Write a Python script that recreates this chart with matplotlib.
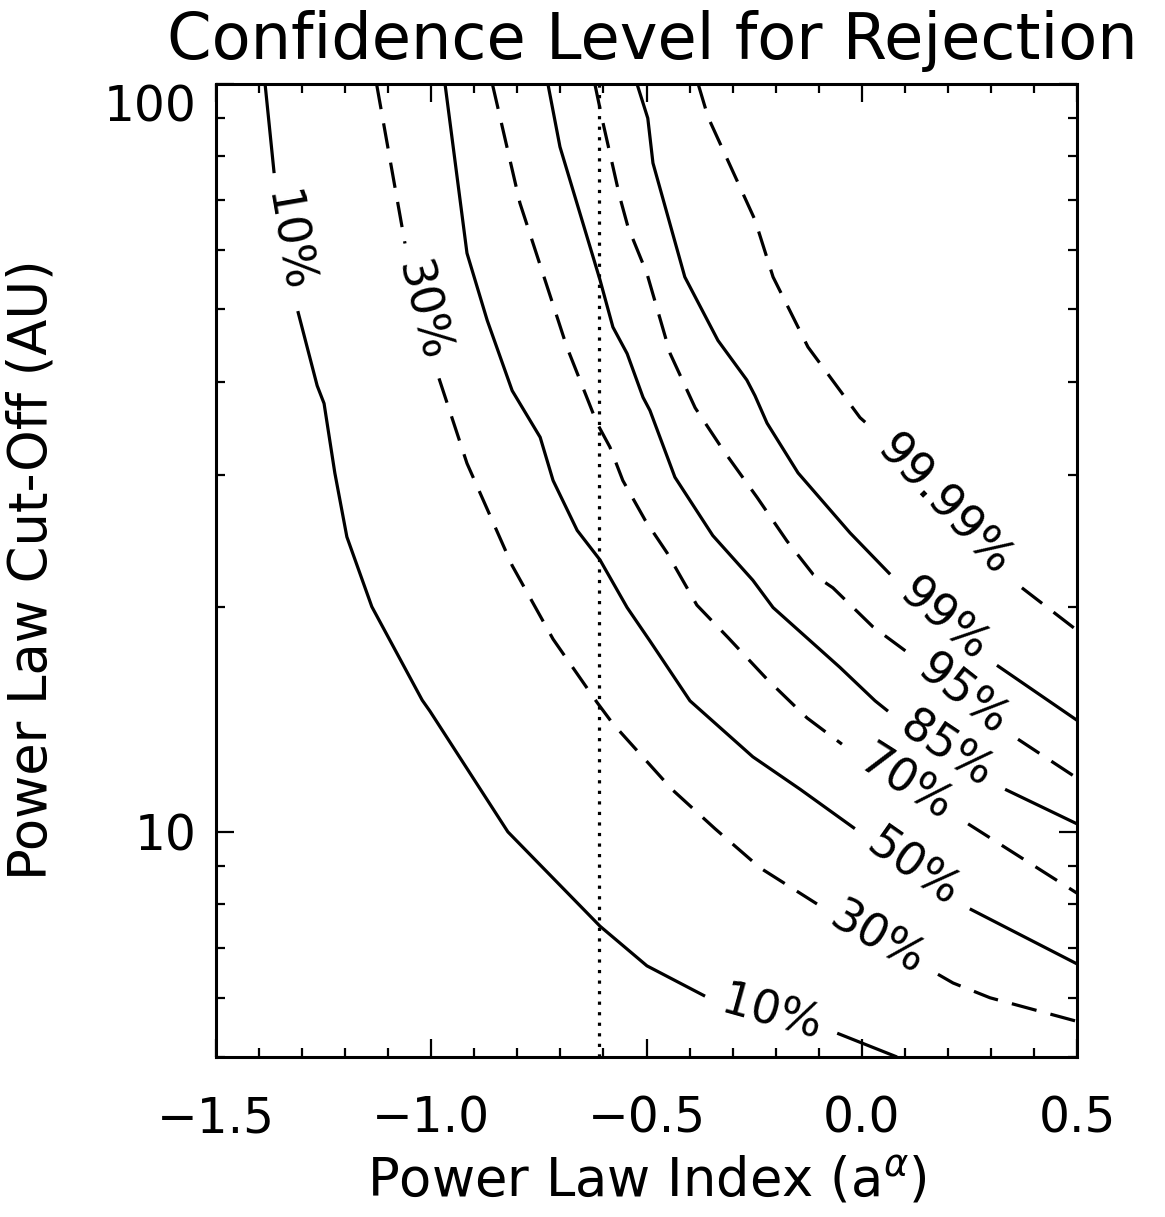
import numpy as np
import matplotlib
matplotlib.use('Agg')
import matplotlib.pyplot as plt
from matplotlib.ticker import FixedLocator, NullFormatter

plt.rcParams.update({'font.family': 'DejaVu Sans'})

# contour levels, each one split into pieces where the label sits
levels = ['10%', '30%', '50%', '70%', '85%', '95%', '99%', '99.99%']

c10_x = [[-1.386, -1.365],
         [-1.310, -1.265, -1.249, -1.224, -1.196, -1.138, -1.021, -1.003,
          -0.822, -0.608, -0.499, -0.364],
         [-0.057, 0.082]]
c10_y = [[100, 76.0],
         [49.7, 39.5, 37.4, 30.2, 24.8, 20.0, 15.0, 14.5, 10.0, 7.48, 6.62, 6.03],
         [5.38, 5.0]]

c30_x = [[-1.127, -1.061],
         [-0.982, -0.917, -0.812, -0.717, -0.615, -0.578, -0.441, -0.341,
          -0.236, -0.104],
         [0.177, 0.212, 0.298, 0.5]]
c30_y = [[100, 61.2],
         [40.4, 31.1, 22.7, 18.1, 14.9, 13.95, 11.4, 10.1, 8.95, 8.01],
         [6.45, 6.28, 6.0, 5.58]]

c50_x = [[-0.968, -0.917, -0.870, -0.812, -0.747, -0.717, -0.661, -0.608,
          -0.545, -0.492, -0.399, -0.253, -0.143, -0.016],
         [0.251, 0.5]]
c50_y = [[100, 59.4, 48.3, 38.9, 33.7, 29.5, 25.3, 23.1, 19.95, 18.0, 14.97,
          12.6, 11.4, 10.1],
         [7.89, 6.66]]

c70_x = [[-0.858, -0.794, -0.685, -0.615, -0.585, -0.555, -0.503, -0.452,
          -0.383, -0.311, -0.220, -0.127, -0.046],
         [0.247, 0.5]]
c70_y = [[100, 69.3, 44.5, 35.2, 32.7, 29.5, 26.1, 23.6, 20.1, 18.2, 16.0,
          14.2, 13.1],
         [10.25, 8.28]]

c85_x = [[-0.729, -0.701, -0.608, -0.578, -0.545, -0.508, -0.492, -0.434,
          -0.346, -0.253, -0.206, -0.051, 0.031, 0.061],
         [0.333, 0.5]]
c85_y = [[100, 82.4, 54.7, 47.3, 43.6, 38.1, 36.6, 29.8, 24.9, 21.7, 19.95,
          16.6, 14.97, 14.5],
         [11.4, 10.25]]

c95_x = [[-0.620, -0.601, -0.562, -0.543, -0.499, -0.445, -0.387, -0.322,
          -0.243, -0.174, -0.113, -0.067, 0.026, 0.105],
         [0.363, 0.5]]
c95_y = [[100, 88.7, 70.6, 64.4, 55.8, 43.6, 36.9, 32.4, 28.0, 24.5, 22.1,
          21.2, 18.8, 17.4],
         [13.3, 11.8]]

c99_x = [[-0.522, -0.497, -0.485, -0.411, -0.334, -0.267, -0.248, -0.220,
          -0.148, -0.027, 0.066],
         [0.314, 0.5]]
c99_y = [[100, 90.0, 78.4, 55.2, 45.4, 40.2, 38.3, 35.2, 30.2, 25.1, 22.1],
         [16.7, 14.1]]

c9999_x = [[-0.380, -0.357, -0.248, -0.206, -0.125, -0.004, 0.008],
           [0.372, 0.5]]
c9999_y = [[100, 90.3, 65.8, 55.2, 44.5, 35.8, 35.3],
           [21.2, 18.6]]

contour_x = [c10_x, c30_x, c50_x, c70_x, c85_x, c95_x, c99_x, c9999_x]
contour_y = [c10_y, c30_y, c50_y, c70_y, c85_y, c95_y, c99_y, c9999_y]
dashed = [False, True, False, True, False, True, False, True]

alpha_obs = -0.61

fig = plt.figure(figsize=(11.65, 12.17), dpi=100)
ax = fig.add_axes([216 / 1165, 1 - 1057 / 1217, 861 / 1165, 973 / 1217])

ax.set_xlim(-1.5, 0.5)
ax.set_yscale('log')
ax.set_ylim(5, 100)

lw = 2.3
for xs, ys, lab, dsh in zip(contour_x, contour_y, levels, dashed):
    ls = (0, (8, 4.5)) if dsh else '-'
    for sx, sy in zip(xs, ys):
        ax.plot(sx, sy, color='black', lw=lw, ls=ls, solid_capstyle='butt',
                dash_capstyle='butt')
    # labels go in the gaps between pieces
    for i in range(len(xs) - 1):
        p0 = ax.transData.transform((xs[i][-1], ys[i][-1]))
        p1 = ax.transData.transform((xs[i + 1][0], ys[i + 1][0]))
        mid = ax.transData.inverted().transform((p0 + p1) / 2)
        ang = np.degrees(np.arctan2(p1[1] - p0[1], p1[0] - p0[0]))
        ax.text(mid[0], mid[1], lab, fontsize=33, rotation=ang,
                rotation_mode='anchor', ha='center', va='center')

ax.axvline(alpha_obs, color='black', lw=lw, ls=(0, (1, 2.3)))

ax.xaxis.set_major_locator(FixedLocator([-1.5, -1.0, -0.5, 0.0, 0.5]))
ax.xaxis.set_minor_locator(FixedLocator(np.arange(-1.5, 0.51, 0.1)))
ax.set_xticklabels(['\u22121.5', '\u22121.0', '\u22120.5', '0.0', '0.5'])
ax.yaxis.set_major_locator(FixedLocator([10, 100]))
ax.yaxis.set_minor_locator(FixedLocator([5, 6, 7, 8, 9, 20, 30, 40, 50, 60, 70, 80, 90]))
ax.set_yticklabels(['10', '100'])
ax.yaxis.set_minor_formatter(NullFormatter())

ax.tick_params(which='both', direction='in', top=True, right=True, width=1.6,
               labelsize=35)
ax.tick_params(which='major', length=13)
ax.tick_params(which='minor', length=6.5)
ax.tick_params(axis='x', pad=27)
ax.tick_params(axis='y', pad=14)
ax.get_yticklabels()[1].set_verticalalignment('top')
for s in ax.spines.values():
    s.set_linewidth(2.2)

fig.text(652 / 1165, 1 - 59 / 1217, 'Confidence Level for Rejection',
         fontsize=46, ha='center', va='baseline')
fig.text(647 / 1165, 1 - 1197 / 1217, r'Power Law Index (a$^{\alpha}$)',
         fontsize=38, ha='center', va='baseline')
fig.text(32 / 1165, 1 - 570 / 1217, 'Power Law Cut-Off (AU)',
         fontsize=38, ha='center', va='center', rotation=90)

fig.savefig('out.png', dpi=100)
